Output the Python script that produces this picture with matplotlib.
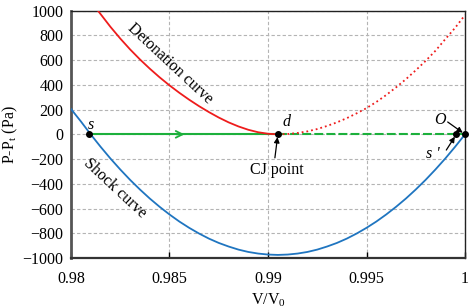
import numpy as np
import matplotlib.pyplot as plt

plt.rcParams['font.family'] = ['Liberation Serif', 'DejaVu Serif']
plt.rcParams['mathtext.fontset'] = 'custom'
plt.rcParams['mathtext.rm'] = 'Liberation Serif'
plt.rcParams['mathtext.it'] = 'Liberation Serif:italic'

# shock curve (blue)
shock_v = [0.9800, 0.9805, 0.9810, 0.9815, 0.9820, 0.9825, 0.9830, 0.9835, 0.9840, 0.9845,
           0.9850, 0.9855, 0.9860, 0.9865, 0.9870, 0.9875, 0.9880, 0.9885, 0.9890, 0.9895,
           0.9900, 0.9905, 0.9910, 0.9915, 0.9920, 0.9925, 0.9930, 0.9935, 0.9940, 0.9945,
           0.9950, 0.9955, 0.9960, 0.9965, 0.9970, 0.9975, 0.9980, 0.9985, 0.9990, 0.9995,
           1.0000]
shock_p = [205, 105, 0, -100, -195, -284, -368, -446, -519, -586,
           -648, -705, -756, -802, -843, -878, -907, -932, -951, -964,
           -972, -975, -972, -964, -951, -932, -907, -878, -843, -802,
           -756, -705, -648, -586, -519, -446, -368, -284, -195, -100,
           0]

# detonation curve, solid part (left of CJ point)
det_v = [0.98137, 0.9815, 0.9820, 0.9825, 0.9830, 0.9835, 0.9840, 0.9845, 0.9850, 0.9855,
         0.9860, 0.9865, 0.9870, 0.9875, 0.9880, 0.9885, 0.9890, 0.9895, 0.9900, 0.9905]
det_p = [1000, 973, 870, 775, 687, 606, 531, 461, 396, 336,
         280, 228, 180, 136, 97, 64, 37, 17, 5, 0]

# detonation curve, dotted part (right of CJ point)
det2_v = [0.9905, 0.9910, 0.9915, 0.9920, 0.9925, 0.9930, 0.9935, 0.9940, 0.9945, 0.9950,
          0.9955, 0.9960, 0.9965, 0.9970, 0.9975, 0.9980, 0.9985, 0.9990, 0.9995, 1.0000]
det2_p = [0, 3, 11, 24, 43, 68, 97, 131, 170, 212,
          262, 318, 380, 446, 518, 594, 676, 770, 862, 965]

# special points
s_pt = (0.98093, 0)
d_pt = (0.9905, 0)
s2_pt = (0.99956, 0)
o_pt = (1.0, 0)

red = '#ee1c1c'
blue = '#1f75c0'
green = '#1cb03c'

fig = plt.figure(figsize=(4.71, 3.08), dpi=100)
ax = fig.add_axes([0.1507, 0.1623, 0.9873 - 0.1507, 0.9653 - 0.1623])

ax.plot(shock_v, shock_p, color=blue, lw=1.3, zorder=3)
ax.plot(det_v, det_p, color=red, lw=1.3, zorder=3)
ax.plot(det2_v, det2_p, color=red, lw=1.3, ls=':', zorder=3)

# Rayleigh-type line
ax.plot([s_pt[0], d_pt[0]], [0, 0], color=green, lw=1.5, zorder=2)
ax.plot([d_pt[0], o_pt[0]], [0, 0], color=green, lw=1.5, dashes=(4.3, 1.5), zorder=2)
ax.annotate('', xy=(0.9859, 0), xytext=(0.9852, 0),
            arrowprops=dict(arrowstyle='->', color=green, lw=1.3, mutation_scale=12))

for p in [s_pt, d_pt, s2_pt, o_pt]:
    ax.plot(p[0], p[1], 'o', color='black', ms=4, zorder=5, clip_on=False)

fs = 11.5
ax.text(0.98085, 8, 's', style='italic', fontsize=fs, ha='left', va='bottom')
ax.text(0.99093, 102, 'd', style='italic', fontsize=fs, ha='center', va='center')
ax.text(0.99875, 118, 'O', style='italic', fontsize=fs, ha='center', va='center')
ax.text(0.99839, -155, "s '", style='italic', fontsize=fs, ha='center', va='center')
ax.text(0.99045, -289, 'CJ point', fontsize=fs, ha='center', va='center')

arrow_kw = dict(arrowstyle='-|>', color='black', lw=0.9, mutation_scale=8,
                shrinkA=0, shrinkB=2)
ax.annotate('', xy=d_pt, xytext=(0.99035, -190), arrowprops=arrow_kw)
ax.annotate('', xy=o_pt, xytext=(0.99912, 100), arrowprops=arrow_kw)
ax.annotate('', xy=s2_pt, xytext=(0.99905, -127), arrowprops=arrow_kw)

ax.text(0.98505, 570, 'Detonation curve', fontsize=fs, rotation=-43,
        ha='center', va='center', rotation_mode='anchor')
ax.text(0.98224, -434, 'Shock curve', fontsize=fs, rotation=-43,
        ha='center', va='center', rotation_mode='anchor')

ax.set_xlim(0.98, 1.0)
ax.set_ylim(-1000, 1000)
ax.set_xticks([0.98, 0.985, 0.99, 0.995, 1.0])
ax.set_xticklabels(['0.98', '0.985', '0.99', '0.995', '1'])
ax.set_yticks(np.arange(-1000, 1001, 200))
ax.grid(True, color='#b4b4b4', ls='--', lw=0.8, dashes=(3, 2))
ax.set_axisbelow(True)
ax.tick_params(axis='x', direction='in', length=4, width=1, pad=9.5, labelsize=fs)
ax.tick_params(axis='y', direction='in', length=0, pad=5.5, labelsize=fs)

ax.set_xlabel('V/V$_0$', fontsize=fs, labelpad=3.5)
ax.set_ylabel('P-P$_\\mathrm{t}$ (Pa)', fontsize=fs, labelpad=2)

ax.spines['left'].set_linewidth(2)
ax.spines['left'].set_color('#555555')
ax.spines['bottom'].set_linewidth(1.6)
ax.spines['bottom'].set_color('#333333')
ax.spines['top'].set_linewidth(1.0)
ax.spines['top'].set_color('#222222')
ax.spines['right'].set_linewidth(1.0)
ax.spines['right'].set_color('#222222')

fig.savefig('out.png', dpi=100)
